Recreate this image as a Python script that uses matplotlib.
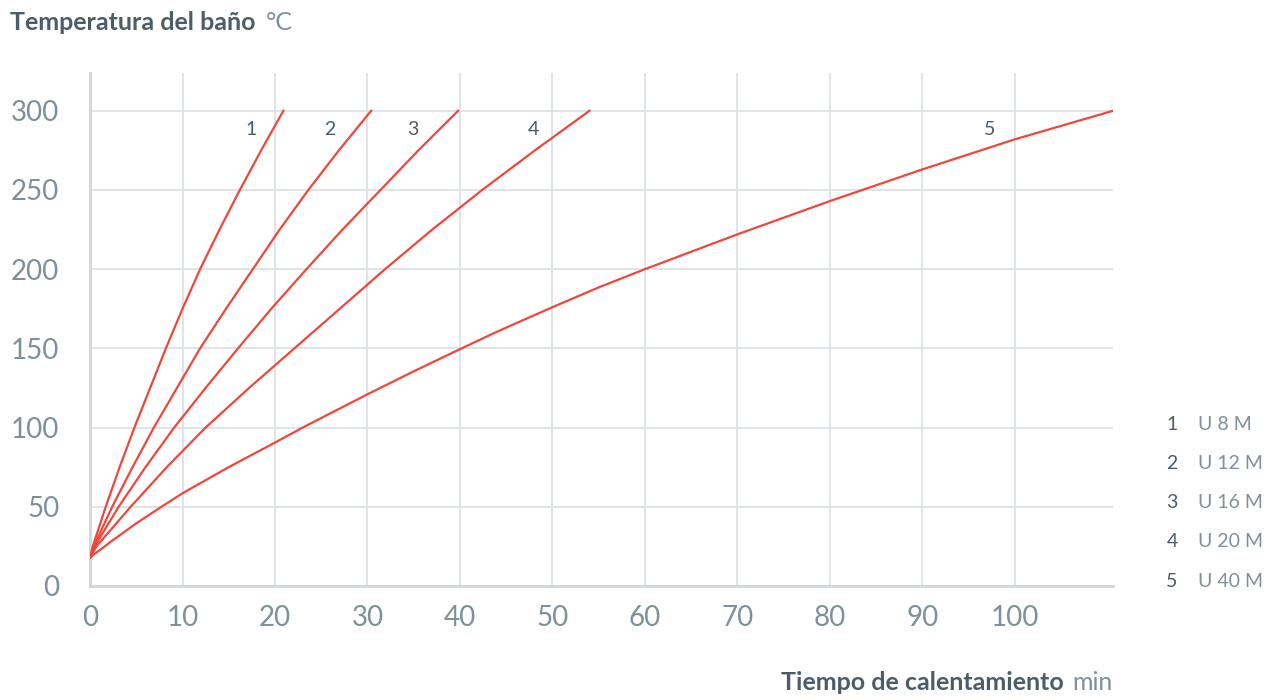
import matplotlib
matplotlib.use('Agg')
import matplotlib.pyplot as plt

# temperature levels (deg C) and the minutes at which each curve reaches them
temps = [18, 25, 50, 75, 100, 125, 150, 175, 200, 225, 250, 275, 300]
t_u8 = [0, 0.3, 1.7, 3.2, 4.8, 6.5, 8.2, 10.0, 11.9, 14.0, 16.2, 18.5, 20.9]
t_u12 = [0, 0.4, 2.4, 4.6, 6.9, 9.4, 11.9, 14.7, 17.6, 20.5, 23.6, 26.9, 30.4]
t_u16 = [0, 0.5, 3.1, 6.0, 9.1, 12.5, 16.0, 19.6, 23.4, 27.3, 31.4, 35.5, 39.8]
t_u20 = [0, 0.7, 4.4, 8.3, 12.5, 17.2, 22.1, 27.0, 31.9, 37.0, 42.4, 48.1, 54.0]
# U 40 M read mostly at the vertical gridlines
t_u40 = [0, 2.5, 5, 7.6, 10, 15, 20, 23.0, 30, 35, 40, 44, 50, 55, 60, 70, 80, 90, 100, 110.6]
temps_u40 = [18, 29, 39.5, 49.5, 58.5, 75, 90.5, 100, 121, 135.5, 149.5, 160.5, 176, 188.5, 200,
             222, 243, 263, 282, 300]

models = ['U 8 M', 'U 12 M', 'U 16 M', 'U 20 M', 'U 40 M']
curve_labels = ['1', '2', '3', '4', '5']
label_x = [17.4, 25.9, 34.9, 47.9, 97.3]

xticks = [0, 10, 20, 30, 40, 50, 60, 70, 80, 90, 100]
yticks = [0, 50, 100, 150, 200, 250, 300]

red = '#f0463c'
dark = '#4b5d69'
light = '#7d909b'
grid_c = '#dce2e7'

plt.rcParams['font.family'] = ['Lato', 'DejaVu Sans']

fig = plt.figure(figsize=(12.77, 7), dpi=100)
ax = fig.add_axes([0.0705, 0.163, 0.801, 0.733])

for xs, ys in [(t_u8, temps), (t_u12, temps), (t_u16, temps), (t_u20, temps), (t_u40, temps_u40)]:
    ax.plot(xs, ys, color=red, lw=1.6, solid_joinstyle='round', zorder=3)

for lab, lx in zip(curve_labels, label_x):
    ax.text(lx, 288, lab, color=dark, fontsize=14, ha='center', va='center')

ax.set_xlim(0, 110.6)
ax.set_ylim(0, 324)
ax.set_xticks(xticks)
ax.set_yticks(yticks)
ax.grid(True, color=grid_c, lw=1.3)
ax.set_axisbelow(True)
for s in ['top', 'right']:
    ax.spines[s].set_visible(False)
for s in ['left', 'bottom']:
    ax.spines[s].set_color('#cfd7dd')
    ax.spines[s].set_linewidth(2)
ax.tick_params(length=0, labelsize=20, labelcolor=light, pad=14)
ax.tick_params(axis='y', pad=22)

# axis titles
fig.text(10 / 1277, 1 - 22 / 700, 'Temperatura del baño', color=dark, fontsize=18,
         fontweight='bold', va='center', ha='left')
fig.text(266 / 1277, 1 - 22 / 700, '°C', color=light, fontsize=18,
         va='center', ha='left')
fig.text(1064 / 1277, 1 - 683 / 700, 'Tiempo de calentamiento', color=dark, fontsize=18,
         fontweight='bold', va='center', ha='right')
fig.text(1113 / 1277, 1 - 683 / 700, 'min', color=light, fontsize=18,
         va='center', ha='right')

# legend on the right
for i, (lab, m) in enumerate(zip(curve_labels, models)):
    yy = 1 - (424 + i * 39.3) / 700
    fig.text(1172 / 1277, yy, lab, color=dark, fontsize=14, ha='center', va='center')
    fig.text(1198 / 1277, yy, m, color=light, fontsize=14,
             ha='left', va='center')

fig.savefig('out.png', dpi=100)
